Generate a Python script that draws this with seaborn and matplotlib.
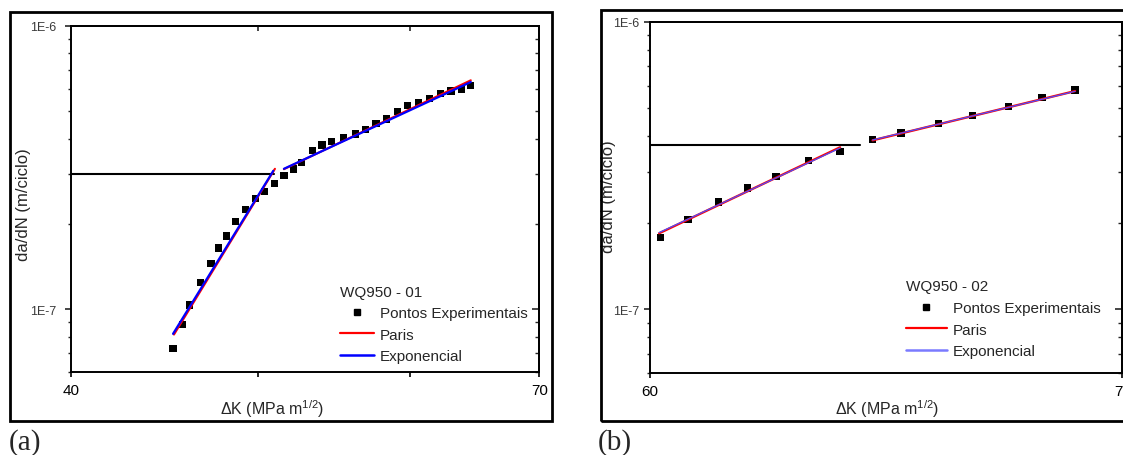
import matplotlib
matplotlib.use("Agg")
import matplotlib.pyplot as plt
import seaborn as sns
from matplotlib.patches import Rectangle
from matplotlib.lines import Line2D
from matplotlib.ticker import FixedLocator, NullLocator, NullFormatter, FixedFormatter

# ---- specimen WQ950 - 01 ----
dk_a = [45.2, 45.7, 46.1, 46.7, 47.3, 47.7, 48.2, 48.7, 49.3, 49.9, 50.4, 51.0,
        51.6, 52.2, 52.7, 53.4, 54.0, 54.6, 55.4, 56.2, 56.9, 57.6, 58.3, 59.1,
        59.8, 60.6, 61.4, 62.2, 63.0, 63.8, 64.5]
rate_a = [7.29e-8, 8.87e-8, 1.036e-7, 1.245e-7, 1.448e-7, 1.645e-7, 1.813e-7,
          2.037e-7, 2.252e-7, 2.455e-7, 2.607e-7, 2.782e-7, 2.96e-7, 3.124e-7,
          3.298e-7, 3.624e-7, 3.796e-7, 3.912e-7, 4.028e-7, 4.151e-7, 4.312e-7,
          4.527e-7, 4.688e-7, 4.975e-7, 5.24e-7, 5.37e-7, 5.546e-7, 5.757e-7,
          5.885e-7, 5.967e-7, 6.144e-7]
# fitted segments (end points of each regime)
paris_a = [([45.25, 51.05], [8.15e-8, 3.13e-7]), ([51.6, 64.5], [3.12e-7, 6.42e-7])]
expo_a = [([45.2, 50.95], [8.2e-8, 3.08e-7]), ([51.6, 64.5], [3.13e-7, 6.33e-7])]
trans_a = ([40.0, 51.0], [3.0e-7, 3.0e-7])

# ---- specimen WQ950 - 02 ----
dk_b = [60.2, 60.75, 61.36, 61.94, 62.52, 63.18, 63.84, 64.52, 65.12, 65.92,
        66.66, 67.45, 68.19, 68.93]
rate_b = [1.777e-7, 2.052e-7, 2.363e-7, 2.644e-7, 2.897e-7, 3.293e-7, 3.548e-7,
          3.905e-7, 4.107e-7, 4.441e-7, 4.724e-7, 5.077e-7, 5.44e-7, 5.785e-7]
paris_b = [([60.18, 63.84], [1.84e-7, 3.66e-7]), ([64.52, 68.93], [3.87e-7, 5.74e-7])]
expo_b = [([60.18, 63.84], [1.85e-7, 3.64e-7]), ([64.52, 68.93], [3.88e-7, 5.73e-7])]
trans_b = ([60.0, 64.26], [3.73e-7, 3.73e-7])

y_ticks = [1e-7, 1e-6]
y_ticklabels = ["1E-7", "1E-6"]
y_minor = [6e-8, 7e-8, 8e-8, 9e-8] + [k * 1e-7 for k in range(2, 10)]

sns.set_style("ticks")
plt.rcParams["font.family"] = ["Liberation Sans", "DejaVu Sans"]
plt.rcParams["mathtext.fontset"] = "custom"
plt.rcParams["mathtext.rm"] = "Liberation Sans"
plt.rcParams["mathtext.it"] = "Liberation Sans:italic"

W, H = 1123, 456
fig = plt.figure(figsize=(W / 100, H / 100), dpi=100)


def px_axes(left, top, right, bottom):
    return fig.add_axes([left / W, 1 - bottom / H, (right - left) / W, (bottom - top) / H])


def draw_panel(ax, dk, rate, paris, expo, trans, xlim, xticks, xlabels, top_ticks,
               exp_color, exp_line_color, exp_lw, red_lw, title, leg_anchor, leg_hl,
               leg_space, xlab_pos, ylab_pos, ypad):
    ax.set_xscale("log")
    ax.set_yscale("log")
    ax.set_xlim(*xlim)
    ax.set_ylim(6e-8, 1e-6)

    sns.lineplot(x=trans[0], y=trans[1], ax=ax, color="black", lw=1.5,
                 sort=False, estimator=None, legend=False, zorder=2)
    sns.scatterplot(x=dk, y=rate, ax=ax, marker="s", s=27, color="black",
                    edgecolor="none", linewidth=0, zorder=3, legend=False)

    # Paris fit underneath, exponential fit drawn over it
    for p, e in zip(paris, expo):
        sns.lineplot(x=p[0], y=p[1], ax=ax, color="#ff0000", lw=red_lw,
                     sort=False, estimator=None, legend=False, zorder=4)
        sns.lineplot(x=e[0], y=e[1], ax=ax, color=exp_line_color, lw=exp_lw,
                     sort=False, estimator=None, legend=False, zorder=4)

    for s in ax.spines.values():
        s.set_linewidth(1.4)
        s.set_color("black")

    # left / bottom ticks point outwards
    ax.xaxis.set_major_locator(FixedLocator(xticks))
    ax.xaxis.set_major_formatter(FixedFormatter(xlabels))
    ax.xaxis.set_minor_locator(NullLocator())
    ax.yaxis.set_major_locator(FixedLocator(y_ticks))
    ax.yaxis.set_major_formatter(FixedFormatter(y_ticklabels))
    ax.yaxis.set_minor_locator(FixedLocator(y_minor))
    ax.yaxis.set_minor_formatter(NullFormatter())
    ax.tick_params(axis="x", which="major", direction="out", length=3.5, width=1.2,
                   labelsize=11, pad=4.5, colors="black", bottom=True, top=False)
    ax.tick_params(axis="y", which="major", direction="out", length=4, width=1.2,
                   labelsize=9, pad=ypad, labelcolor="#3a3a3a", left=True, right=False)
    ax.tick_params(axis="y", which="minor", direction="out", length=2, width=1.0,
                   left=True, right=False)

    # right / top ticks point inwards
    sec_y = ax.secondary_yaxis("right")
    sec_y.yaxis.set_major_locator(FixedLocator(y_ticks))
    sec_y.yaxis.set_minor_locator(FixedLocator(y_minor))
    sec_y.yaxis.set_major_formatter(NullFormatter())
    sec_y.yaxis.set_minor_formatter(NullFormatter())
    sec_y.tick_params(which="major", direction="in", length=5, width=1.2)
    sec_y.tick_params(which="minor", direction="in", length=3, width=1.0)
    sec_y.spines["right"].set_linewidth(1.4)
    sec_x = ax.secondary_xaxis("top")
    sec_x.xaxis.set_major_locator(FixedLocator(top_ticks))
    sec_x.xaxis.set_minor_locator(NullLocator())
    sec_x.xaxis.set_major_formatter(NullFormatter())
    sec_x.tick_params(which="major", direction="in", length=3.5, width=1.2)
    sec_x.spines["top"].set_linewidth(1.4)

    ax.set_xlabel("ΔK (MPa m$^{1/2}$)", fontsize=11.5)
    ax.xaxis.label.set_va("center")
    ax.xaxis.set_label_coords(*xlab_pos)
    ax.set_ylabel("da/dN (m/ciclo)", fontsize=12)
    ax.yaxis.label.set_va("center")
    ax.yaxis.set_label_coords(*ylab_pos)

    handles = [
        Line2D([], [], ls="none", marker="s", markersize=4.2, color="black"),
        Line2D([], [], color="#ff0000", lw=1.6),
        Line2D([], [], color=exp_color, lw=1.8),
    ]
    ax.legend(handles, ["Pontos Experimentais", "Paris", "Exponencial"],
              title=title, loc="upper left", bbox_to_anchor=leg_anchor,
              frameon=False, fontsize=11, title_fontsize=11, alignment="left",
              borderpad=0, borderaxespad=0, handlelength=leg_hl,
              handletextpad=0.4, labelspacing=leg_space)


# panel (a)
ax_a = px_axes(70.7, 26.7, 539.3, 373.3)
draw_panel(ax_a, dk_a, rate_a, paris_a, expo_a, trans_a, (40, 70), [40, 50, 60, 70],
           ["40", "", "", "70"], [50, 60], "#0000ff", "#0000ff", 1.6, 1.5,
           "WQ950 - 01", (0.5747, 0.252), 2.2, 0.48,
           (0.4296, -0.104), (-0.101, 0.486), 6)

# panel (b)
ax_b = px_axes(650, 22.7, 1122.3, 374.3)
draw_panel(ax_b, dk_b, rate_b, paris_b, expo_b, trans_b, (60, 70), [60, 70],
           ["60", "70"], [], "#7a7aff", "#4d4dff", 0.9, 1.7,
           "WQ950 - 02", (0.542, 0.267), 2.66, 0.5,
           (0.502, -0.0995), (-0.088, 0.505), 4)

# outer frames around each panel
fig.patches.append(Rectangle((10 / W, 1 - 421.7 / H), 541.5 / W, 408.4 / H,
                             transform=fig.transFigure, fill=False, lw=2, ec="black"))
fig.patches.append(Rectangle((600.7 / W, 1 - 421.7 / H), 540 / W, 410.7 / H,
                             transform=fig.transFigure, fill=False, lw=2, ec="black"))

fig.text(9 / W, 1 - 449.5 / H, "(a)", family=["Liberation Serif", "DejaVu Serif"],
         fontsize=21, va="baseline", ha="left")
fig.text(598 / W, 1 - 449.5 / H, "(b)", family=["Liberation Serif", "DejaVu Serif"],
         fontsize=21, va="baseline", ha="left")

fig.savefig("out.png", dpi=100)
